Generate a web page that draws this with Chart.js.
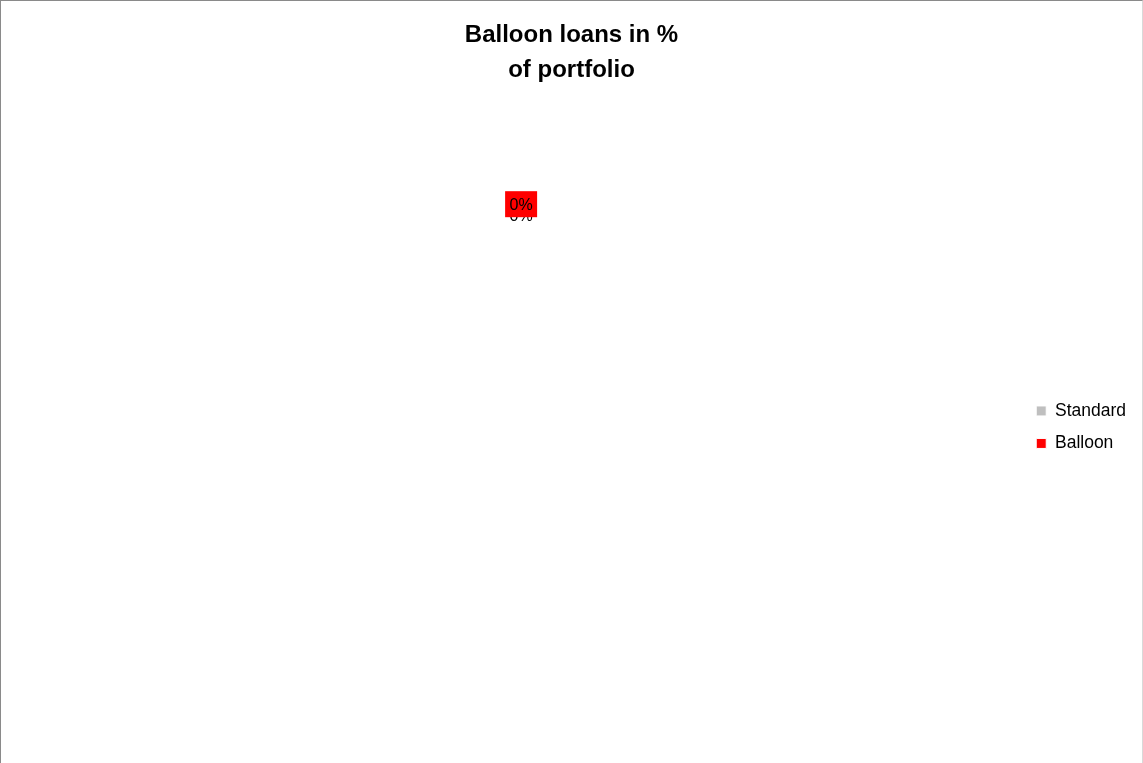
<!DOCTYPE html>
<html>
<head>
<meta charset="utf-8">
<script src="https://cdn.jsdelivr.net/npm/chart.js@4/dist/chart.umd.min.js"></script>
<style>
    html, body { margin: 0; padding: 0; background: #fff; overflow: hidden; }
    #wrap {
        width: 1143px; height: 763px;
        border-left: 1px solid #8a8a8a;
        border-top: 1px solid #8a8a8a;
        border-right: 1px solid #d9d9d9;
        box-sizing: border-box;
    }
    canvas { display: block; }
</style>
</head>
<body>
<div id="wrap"><canvas id="pie" width="1141" height="762"></canvas></div>
<script>
const categories = ['Standard', 'Balloon'];
const shares = [0, 0];
const sliceColors = ['#bfbfbf', '#ff0000'];
const titleLines = ['Balloon loans in %', 'of portfolio'];

// draws the "0%" labels at the top of each (empty) slice, like the spreadsheet does
const pieLabels = {
    id: 'pieLabels',
    afterDatasetsDraw: function(chart) {
        const ctx = chart.ctx;
        const meta = chart.getDatasetMeta(0);
        const values = chart.data.datasets[0].data;
        const total = values.reduce((a, b) => a + b, 0);
        ctx.save();
        ctx.font = '16px "Liberation Sans", Arial, sans-serif';
        ctx.textAlign = 'center';
        ctx.textBaseline = 'middle';
        meta.data.forEach((arc, i) => {
            const p = arc.getProps(['x', 'y', 'startAngle', 'endAngle', 'outerRadius'], true);
            const mid = (p.startAngle + p.endAngle) / 2;
            const r = p.outerRadius * 0.91;
            const x = p.x + Math.cos(mid) * r;
            const y = p.y + Math.sin(mid) * r + (i === 0 ? 11 : 0);
            const pct = total ? Math.round(values[i] / total * 100) : 0;
            const txt = pct + '%';
            if (i === 1) {
                ctx.fillStyle = sliceColors[i];
                ctx.fillRect(x - 16, y - 13, 32, 26);
            }
            ctx.fillStyle = '#000';
            ctx.fillText(txt, x, y + 1);
        });
        ctx.restore();
    }
};

new Chart(document.getElementById('pie'), {
    type: 'pie',
    data: {
        labels: categories,
        datasets: [{
            data: shares,
            backgroundColor: sliceColors,
            borderColor: '#fff',
            borderWidth: 1,
            radius: '76.6%'
        }]
    },
    options: {
        responsive: false,
        animation: false,
        layout: { padding: { left: 6, right: 6, bottom: 20 } },
        plugins: {
            title: {
                display: true,
                text: titleLines,
                color: '#000',
                font: { family: '"Liberation Sans", Arial, sans-serif', size: 24, weight: 'bold', lineHeight: 1.45 },
                padding: { top: 17, bottom: 20 }
            },
            // empty spacer on the left so the pie sits a bit right of centre
            subtitle: {
                display: true,
                text: '',
                position: 'left',
                fullSize: false,
                color: 'rgba(0,0,0,0)',
                font: { size: 10, lineHeight: 1 },
                padding: { top: 4, bottom: 0 }
            },
            legend: {
                position: 'right',
                title: { display: true, text: '', padding: { top: 96, bottom: 0 } },
                labels: {
                    color: '#000',
                    boxWidth: 10,
                    boxHeight: 10,
                    padding: 15,
                    font: { family: '"Liberation Sans", Arial, sans-serif', size: 17.5 }
                }
            },
            tooltip: { enabled: false }
        }
    },
    plugins: [pieLabels]
});
</script>
</body>
</html>
